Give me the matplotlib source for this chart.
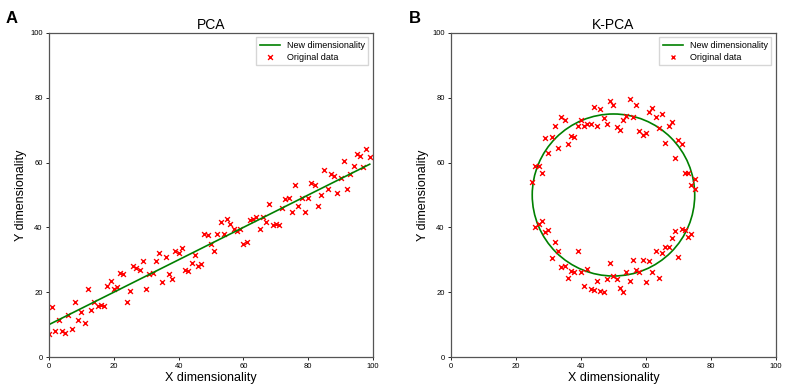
import matplotlib
matplotlib.use("Agg")
import matplotlib.pyplot as plt
import numpy as np
from matplotlib.lines import Line2D
from matplotlib.patches import Circle

plt.rcParams["font.family"] = ["Liberation Sans", "DejaVu Sans"]

# PCA panel: one point per integer x from 0 to 99
pca_x = list(range(100))
pca_y = [7, 15.5, 8, 11.5, 8, 7.5, 12.9, 8.6, 17, 11.5,
         14, 10.5, 21, 14.5, 17, 15.6, 16, 15.6, 22, 23.5,
         21, 21.5, 26, 25.6, 17, 20.5, 28, 27.5, 27, 29.6,
         21, 25.6, 26, 29.6, 32, 23, 31, 25.6, 24, 32.6,
         32, 33.6, 27, 26.6, 29, 31.5, 28, 28.6, 38.1, 37.6,
         35, 32.6, 38.1, 41.6, 38.1, 42.7, 41.1, 39.6, 39, 39.6,
         35, 35.6, 42.2, 42.7, 43.1, 39.6, 43.1, 41.6, 47.1, 40.6,
         41.1, 40.6, 46.1, 48.7, 49.2, 44.6, 53, 46.6, 49.2, 44.6,
         49.2, 53.6, 53, 46.6, 50.1, 57.6, 52, 56.6, 56, 50.6,
         55.2, 60.6, 52, 56.6, 59.1, 62.6, 62.1, 58.6, 64.1, 61.6]
pca_line_x = [0, 99]
pca_line_y = [10, 59.5]

# K-PCA panel: upper and lower arcs
kpca_up_x = [25, 26, 27, 28, 29, 30, 31, 32, 33, 34, 35, 36, 37, 38, 39, 40,
             41, 42, 43, 44, 45, 46, 47, 48, 49, 50, 51, 52, 53, 54, 55, 56,
             57, 58, 59, 60, 61, 62, 63, 64, 65, 66, 67, 68, 69, 70, 71, 72,
             73, 74, 75, 75]
kpca_up_y = [54, 59, 59, 56.9, 67.5, 63, 68, 71.4, 64.4, 74, 73, 65.7, 68.2, 68,
             71.4, 73, 71.4, 71.8, 72, 77.2, 71.4, 76.5, 73.8, 72, 79, 77.9,
             71, 70, 73, 74.5, 79.5, 74.2, 77.9, 69.7, 68.5, 69, 75.5, 77, 74.2,
             70.7, 75, 66.2, 71.4, 72.5, 61.4, 67, 65.7, 56.9, 56.9, 53.1, 55, 52]
kpca_lo_x = [26, 27, 28, 29, 30, 31, 32, 33, 34, 35, 36, 37, 38, 39, 40, 41,
             42, 43, 44, 45, 46, 47, 48, 49, 50, 51, 52, 53, 54, 55, 56, 57,
             58, 59, 60, 61, 62, 63, 64, 65, 66, 67, 68, 69, 70, 71, 72, 73, 74]
kpca_lo_y = [40.1, 41.1, 42.1, 38.6, 39.1, 30.6, 35.6, 32.6, 27.8, 28, 24.3,
             26.6, 26.1, 32.6, 26.1, 21.8, 27.3, 21, 20.8, 23.6, 20.3, 20.1,
             24, 29.1, 25, 24, 21.3, 20.1, 26.3, 23.6, 29.8, 27, 26.3, 29.8,
             23.1, 29.6, 26.1, 32.6, 24.3, 32.1, 33.8, 33.8, 36.6, 38.9, 31,
             39.4, 39.1, 37.1, 38]
kpca_center = (50, 50)
kpca_radius = 25


def style_axes(ax, title):
    ax.set_xlim(0, 100)
    ax.set_ylim(0, 100)
    ax.set_title(title, fontsize=10, pad=3)
    ax.set_xlabel("X dimensionality", fontsize=9, labelpad=1)
    ax.set_ylabel("Y dimensionality", fontsize=9, labelpad=2)
    ax.tick_params(labelsize=5.5, length=2.5, width=0.6, pad=2)
    for s in ax.spines.values():
        s.set_linewidth(0.9)
        s.set_color("#555555")


fig = plt.figure(figsize=(7.85, 3.84), dpi=100)
ax1 = fig.add_axes([0.0624, 0.0703, 0.4127, 0.8438])
ax2 = fig.add_axes([0.5745, 0.0703, 0.414, 0.8438])

ax1.plot(pca_line_x, pca_line_y, color="green", lw=1.2, label="New dimensionality")
ax1.scatter(pca_x, pca_y, marker="x", color="red", s=12, linewidths=1.0, label="Original data")
style_axes(ax1, "PCA")
ax1.legend(loc="upper right", fontsize=6.5, fancybox=False, edgecolor="#cccccc",
           borderpad=0.4, handlelength=2.2, labelspacing=0.3)

ax2.add_patch(Circle(kpca_center, kpca_radius, fill=False, ec="green", lw=1.2))
ax2.scatter(kpca_up_x + kpca_lo_x, kpca_up_y + kpca_lo_y, marker="x", color="red",
            s=12, linewidths=1.0)
style_axes(ax2, "K-PCA")
handles = [Line2D([], [], color="green", lw=1.2),
           Line2D([], [], color="red", marker="x", ls="", markersize=3.5, mew=1.0)]
ax2.legend(handles, ["New dimensionality", "Original data"], loc="upper right",
           fontsize=6.5, fancybox=False, edgecolor="#cccccc", borderpad=0.4,
           handlelength=2.2, labelspacing=0.3)

fig.text(0.007, 0.952, "A", fontsize=12, fontweight="bold", va="center")
fig.text(0.521, 0.952, "B", fontsize=12, fontweight="bold", va="center")

fig.savefig("out.png", dpi=100)
